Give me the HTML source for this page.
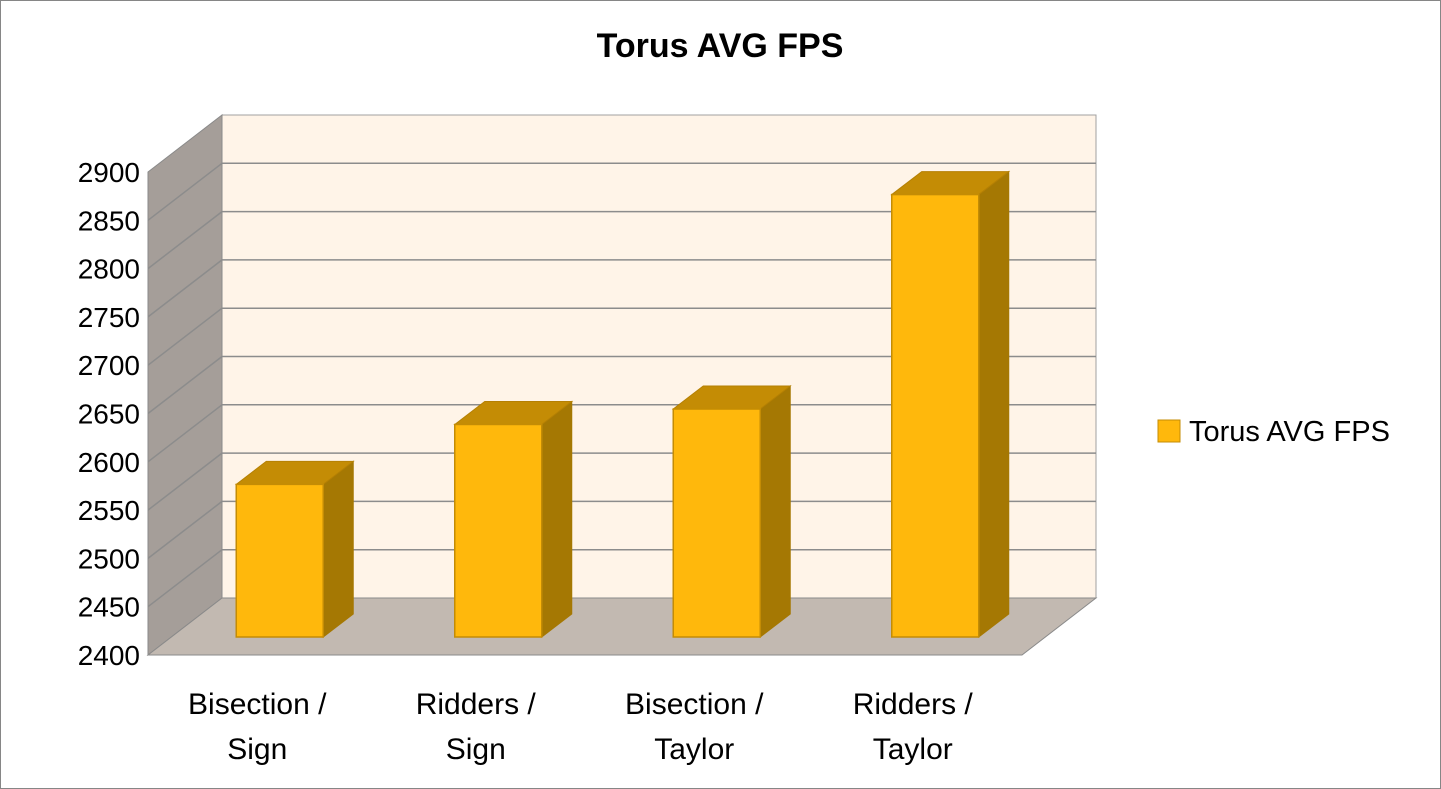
<!DOCTYPE html>
<html><head><meta charset="utf-8"><style>
html,body{margin:0;padding:0;background:#fff}
svg{display:block;font-family:"Liberation Sans",sans-serif}
</style></head><body>
<svg id="chart" width="1441" height="789" viewBox="0 0 1441 789">
<rect x="0.5" y="0.5" width="1440" height="788" fill="#fff" stroke="#868686"/>
<text x="720" y="57" text-anchor="middle" font-size="34" font-weight="bold" fill="#000">Torus AVG FPS</text>
<g id="plot"></g>
<rect x="1158" y="420" width="22" height="22" fill="#FFB80C" stroke="#C48C05"/>
<text x="1189" y="441" font-size="29" fill="#000">Torus AVG FPS</text>
</svg>
<script>
const categories=[["Bisection /","Sign"],["Ridders /","Sign"],["Bisection /","Taylor"],["Ridders /","Taylor"]];
const values=[2558,2620,2636,2858];
const ticks=[2400,2450,2500,2550,2600,2650,2700,2750,2800,2850,2900];
const NS="http://www.w3.org/2000/svg";
const g=document.getElementById('plot');
const X0=148,X1=1022,DX=74,DY=-57,BDX=23,BDY=-18;
function y(v){return 655-(v-2400)*0.966;}
function mk(t,a){const e=document.createElementNS(NS,t);for(const k in a)e.setAttribute(k,a[k]);g.appendChild(e);return e;}
function pts(p){return p.map(q=>q.join(',')).join(' ');}
let e;
e=mk('polygon',{points:pts([[X0+DX,y(2900)+DY],[X1+DX,y(2900)+DY],[X1+DX,y(2400)+DY],[X0+DX,y(2400)+DY]]),fill:'#FFF4E8',stroke:'#A0A0A0'});


e=mk('polygon',{points:pts([[X0,y(2900)],[X0+DX,y(2900)+DY],[X0+DX,y(2400)+DY],[X0,y(2400)]]),fill:'#A59E99',stroke:'#8A8A8A'});


e=mk('polygon',{points:pts([[X0,y(2400)],[X0+DX,y(2400)+DY],[X1+DX,y(2400)+DY],[X1,y(2400)]]),fill:'#C2B9B1',stroke:'#8A8A8A'});


ticks.forEach(t=>{
  if(t>2400&&t<2900){
    e=mk('line',{x1:X0+DX,y1:y(t)+DY,x2:X1+DX,y2:y(t)+DY,stroke:'#8C8C8C','stroke-width':1.5});
    
    
    e=mk('line',{x1:X0,y1:y(t),x2:X0+DX,y2:y(t)+DY,stroke:'#8C8C8C','stroke-width':1.5});
    
    
  }
  e=mk('text',{x:140,y:y(t)+10,'text-anchor':'end','font-size':28,fill:'#000'});
  e.textContent=t;
  
  
});
const step=(X1-X0)/categories.length,W=87,SX=30,SY=-23;
values.forEach((v,i)=>{
  const cx=X0+BDX+(i+0.5)*step-0.5,l=cx-W/2,r=cx+W/2,b=y(2400)+BDY,t=y(v)+BDY;
  e=mk('polygon',{points:pts([[r,t],[r+SX,t+SY],[r+SX,b+SY],[r,b]]),fill:'#A57803',stroke:'#A57803'});
  
  
  e=mk('polygon',{points:pts([[l,t],[l+SX,t+SY],[r+SX,t+SY],[r,t]]),fill:'#C48C05',stroke:'#B58004'});
  
  
  e=mk('rect',{x:l,y:t,width:W,height:b-t,fill:'#FFB80C',stroke:'#C48C05','stroke-width':1.5});
  
  
  categories[i].forEach((s,j)=>{
    e=mk('text',{x:X0+(i+0.5)*step,y:714+j*45,'text-anchor':'middle','font-size':30,fill:'#000'});
    e.textContent=s;
    
    
  });
});
</script>
</body></html>
